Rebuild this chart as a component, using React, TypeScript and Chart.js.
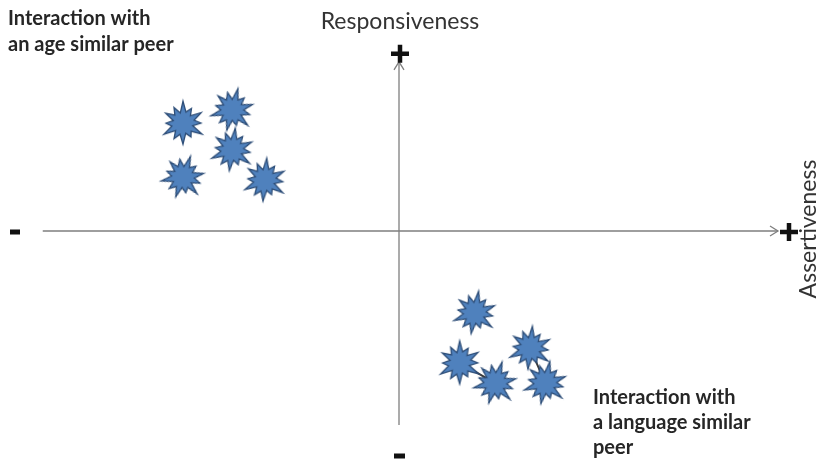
import React, { useEffect, useRef } from "react";
import { Chart, registerables } from "chart.js";

Chart.register(...registerables);

// Data (axis units: -5 .. 5 on both axes, origin at the crossing)
const ageX = [-2.85, -2.2, -2.2, -2.85, -1.77];
const ageY = [2.78, 3.12, 2.09, 1.39, 1.31];
const langX = [1.0, 0.8, 1.27, 1.73, 1.93];
const langY = [-2.11, -3.4, -3.92, -3.02, -3.92];
const langLinks = [
  [1, 2],
  [3, 4],
];
const axisRange = [-5, 5];
const xAxisStart = -4.7;
const yAxisTop = 4.36;
const xTitle = "Assertiveness";
const yTitle = "Responsiveness";
const ageLabel = ["Interaction with", "an age similar peer"];
const langLabel = ["Interaction with", "a language similar", "peer"];

function makeStar(): HTMLCanvasElement {
  const c = document.createElement("canvas");
  c.width = 52;
  c.height = 52;
  const g = c.getContext("2d")!;
  const outer = [22, 17, 21, 18, 22, 16, 21, 18, 22, 17, 20, 18];
  const inner = [11.5, 10.5, 11.5, 10, 11.5, 10.5, 11.5, 10.5, 11.5, 10, 11.5, 10.5];
  const n = outer.length;
  g.beginPath();
  for (let i = 0; i < n; i++) {
    const a1 = (i / n) * Math.PI * 2 - Math.PI / 2;
    const a2 = ((i + 0.5) / n) * Math.PI * 2 - Math.PI / 2;
    const x1 = 26 + outer[i] * Math.cos(a1);
    const y1 = 26 + outer[i] * Math.sin(a1);
    const x2 = 26 + inner[i] * Math.cos(a2);
    const y2 = 26 + inner[i] * Math.sin(a2);
    if (i === 0) g.moveTo(x1, y1);
    else g.lineTo(x1, y1);
    g.lineTo(x2, y2);
  }
  g.closePath();
  g.fillStyle = "#4F81BD";
  g.fill();
  g.lineWidth = 1.3;
  g.strokeStyle = "#2E4E78";
  g.stroke();
  return c;
}

const diagramPlugin = {
  id: "diagram",
  beforeDatasetsDraw(chart: any) {
    const { ctx, scales } = chart;
    const xs = scales.x;
    const ys = scales.y;
    const ox = xs.getPixelForValue(0);
    const oy = ys.getPixelForValue(0);
    const xl = xs.getPixelForValue(xAxisStart);
    const xr = xs.getPixelForValue(axisRange[1]);
    const yt = ys.getPixelForValue(yAxisTop);
    const yb = ys.getPixelForValue(axisRange[0]);
    ctx.save();
    ctx.strokeStyle = "#7F7F7F";
    ctx.lineWidth = 1.3;
    ctx.beginPath();
    ctx.moveTo(xl, oy);
    ctx.lineTo(xr, oy);
    ctx.moveTo(ox, yb);
    ctx.lineTo(ox, yt);
    ctx.stroke();
    // arrowheads
    ctx.beginPath();
    ctx.moveTo(xr - 8, oy - 5);
    ctx.lineTo(xr, oy);
    ctx.lineTo(xr - 8, oy + 5);
    ctx.moveTo(ox - 5, yt + 8);
    ctx.lineTo(ox, yt);
    ctx.lineTo(ox + 5, yt + 8);
    ctx.stroke();
    ctx.restore();
  },
  afterDraw(chart: any) {
    const { ctx, scales } = chart;
    const xs = scales.x;
    const ys = scales.y;
    const ox = xs.getPixelForValue(0);
    const oy = ys.getPixelForValue(0);
    const xr = xs.getPixelForValue(axisRange[1]);
    const yt = ys.getPixelForValue(yAxisTop);
    const yb = ys.getPixelForValue(axisRange[0]);
    ctx.save();
    // plus / minus signs
    ctx.strokeStyle = "#111";
    ctx.lineCap = "butt";
    ctx.lineWidth = 4.5;
    const plus = (cx: number, cy: number) => {
      ctx.beginPath();
      ctx.moveTo(cx - 9, cy);
      ctx.lineTo(cx + 9, cy);
      ctx.moveTo(cx, cy - 9);
      ctx.lineTo(cx, cy + 9);
      ctx.stroke();
    };
    plus(ox + 1, yt - 8);
    plus(xr + 11, oy + 1);
    ctx.lineWidth = 5;
    ctx.beginPath();
    ctx.moveTo(10, oy + 1);
    ctx.lineTo(20, oy + 1);
    ctx.moveTo(ox - 5, yb + 31);
    ctx.lineTo(ox + 6, yb + 31);
    ctx.stroke();

    // axis titles
    ctx.fillStyle = "#333";
    ctx.font = "23px Lato";
    ctx.textAlign = "center";
    ctx.textBaseline = "middle";
    ctx.fillText(yTitle, ox + 1, 22);
    ctx.save();
    ctx.translate(809, oy - 2);
    ctx.rotate(-Math.PI / 2);
    ctx.fillText(xTitle, 0, 0);
    ctx.restore();

    // group labels
    ctx.fillStyle = "#262626";
    ctx.font = "bold 20px Lato";
    ctx.textAlign = "left";
    ctx.textBaseline = "middle";
    ageLabel.forEach((t, i) => ctx.fillText(t, 8, 19 + i * 26));
    langLabel.forEach((t, i) => ctx.fillText(t, 593, 398 + i * 25));
    ctx.restore();
  },
};

export default function App() {
  const ref = useRef<HTMLCanvasElement>(null);
  useEffect(() => {
    const star = makeStar();
    const linkSets = langLinks.map(([a, b]) => ({
      type: "line" as const,
      data: [
        { x: langX[a], y: langY[a] },
        { x: langX[b], y: langY[b] },
      ],
      borderColor: "#3A3A3A",
      borderWidth: 2,
      pointRadius: 0,
      showLine: true,
      order: 2,
    }));
    const chart = new Chart(ref.current!, {
      type: "scatter",
      data: {
        datasets: [
          {
            data: ageX.map((x, i) => ({ x, y: ageY[i] })),
            pointStyle: star,
            pointRotation: [0, 15, 8, 20, 5],
            order: 0,
          } as any,
          {
            data: langX.map((x, i) => ({ x, y: langY[i] })),
            pointStyle: star,
            pointRotation: [10, 0, 18, 6, 12],
            order: 0,
          } as any,
          ...linkSets,
        ],
      },
      options: {
        animation: false,
        responsive: false,
        events: [],
        layout: { padding: { left: 20, right: 42, top: 37, bottom: 37 } },
        plugins: { legend: { display: false }, tooltip: { enabled: false } },
        scales: {
          x: { type: "linear", min: axisRange[0], max: axisRange[1], display: false },
          y: { type: "linear", min: axisRange[0], max: axisRange[1], display: false },
        },
      },
      plugins: [diagramPlugin],
    });
    return () => chart.destroy();
  }, []);
  return (
    <div style={{ position: "fixed", left: 0, top: 0, width: 820, height: 462, background: "#fff" }}>
      <canvas ref={ref} width={820} height={462} style={{ display: "block" }} />
    </div>
  );
}
